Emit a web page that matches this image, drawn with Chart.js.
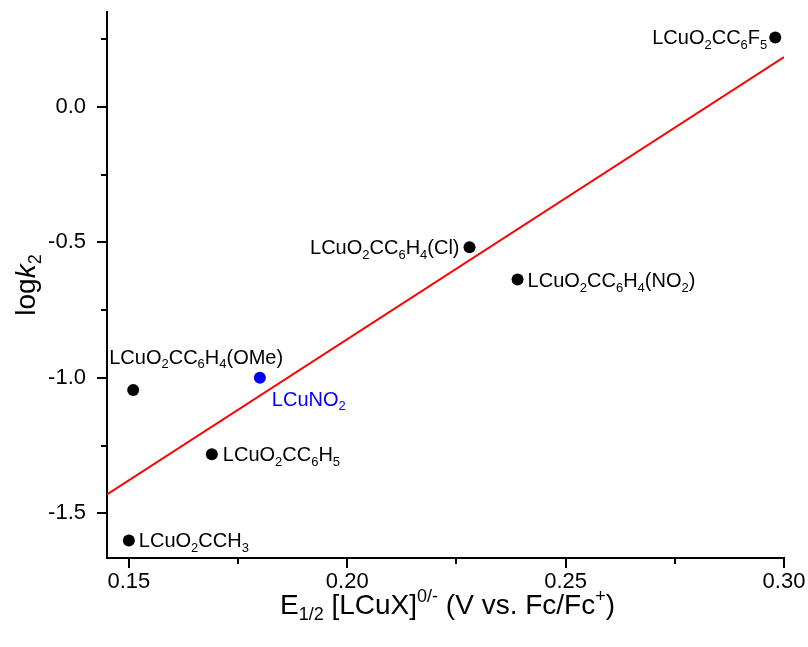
<!DOCTYPE html>
<html>
<head>
<meta charset="utf-8">
<script src="https://cdn.jsdelivr.net/npm/chart.js@4"></script>
<style>
  html, body { margin: 0; padding: 0; background: #fff; }
</style>
</head>
<body>
<canvas id="graphique" width="808" height="647"></canvas>
<script>
// données
const composes = ['LCuO2CCH3', 'LCuO2CC6H4(OMe)', 'LCuNO2', 'LCuO2CC6H5', 'LCuO2CC6H4(Cl)', 'LCuO2CC6H4(NO2)', 'LCuO2CC6F5'];
const potentiels = [0.150, 0.151, 0.180, 0.169, 0.228, 0.239, 0.298];
const logK2 = [-1.60, -1.045, -1.00, -1.282, -0.518, -0.637, 0.256];

// droite de régression (extrémités)
const droiteX = [0.145, 0.30];
const droiteY = [-1.43, 0.184];

const ticksX = [0.15, 0.175, 0.20, 0.225, 0.25, 0.275, 0.30];
const etiquettesX = ['0.15', '', '0.20', '', '0.25', '', '0.30'];
const ticksY = [-1.5, -1.25, -1.0, -0.75, -0.5, -0.25, 0.0, 0.25];
const etiquettesY = ['-1.5', '', '-1.0', '', '-0.5', '', '0.0', ''];

// style et placement des étiquettes
const couleurs = ['#000', '#000', '#0000ff', '#000', '#000', '#000', '#000'];
const placement = [
  { dx: 10, dy: 0, align: 'left' },
  { dx: -24, dy: -33, align: 'left' },
  { dx: 12, dy: 21, align: 'left' },
  { dx: 11, dy: 0, align: 'left' },
  { dx: -10, dy: 0, align: 'right' },
  { dx: 10, dy: 1, align: 'left' },
  { dx: -8, dy: 0, align: 'right' }
];

const police = "'Liberation Sans', Arial, sans-serif";

// les chiffres des formules sont en indice
function decouper(texte) {
  return texte.match(/\d+|\D+/g).map(s => ({ t: s, sub: /^\d+$/.test(s) }));
}

function texteRiche(ctx, segs, x, y, taille, align, couleur) {
  const petite = Math.round(taille * 0.65);
  const fontDe = s => (s.italic ? 'italic ' : '') + (s.sub || s.sup ? petite : taille) + 'px ' + police;
  let largeur = 0;
  segs.forEach(s => { ctx.font = fontDe(s); largeur += ctx.measureText(s.t).width; });
  let cx = x;
  if (align === 'right') cx = x - largeur;
  if (align === 'center') cx = x - largeur / 2;
  ctx.fillStyle = couleur;
  ctx.textBaseline = 'alphabetic';
  ctx.textAlign = 'left';
  segs.forEach(s => {
    ctx.font = fontDe(s);
    let dy = 0;
    if (s.sub) dy = taille * 0.22;
    if (s.sup) dy = -taille * 0.42;
    ctx.fillText(s.t, cx, y + dy);
    cx += ctx.measureText(s.t).width;
  });
}

const pluginDessin = {
  id: 'dessin',
  afterDraw(chart) {
    const { ctx, chartArea } = chart;
    const x = chart.scales.x, y = chart.scales.y;
    ctx.save();

    // graduations (majeures plus longues)
    ctx.strokeStyle = '#000';
    ctx.lineWidth = 2;
    ticksX.forEach((v, i) => {
      const px = Math.round(x.getPixelForValue(v));
      const len = etiquettesX[i] ? 10 : 6;
      ctx.beginPath();
      ctx.moveTo(px, chartArea.bottom);
      ctx.lineTo(px, chartArea.bottom + len);
      ctx.stroke();
    });
    ticksY.forEach((v, i) => {
      const py = Math.round(y.getPixelForValue(v));
      const len = etiquettesY[i] ? 10 : 6;
      ctx.beginPath();
      ctx.moveTo(chartArea.left, py);
      ctx.lineTo(chartArea.left - len, py);
      ctx.stroke();
    });

    // étiquettes des points
    composes.forEach((nom, i) => {
      const px = x.getPixelForValue(potentiels[i]);
      const py = y.getPixelForValue(logK2[i]);
      const p = placement[i];
      texteRiche(ctx, decouper(nom), px + p.dx, py + p.dy + 7, 20, p.align, couleurs[i]);
    });

    // titres des axes
    const titreX = [
      { t: 'E' }, { t: '1/2', sub: true }, { t: ' [LCuX]' }, { t: '0/-', sup: true },
      { t: ' (V vs. Fc/Fc' }, { t: '+', sup: true }, { t: ')' }
    ];
    texteRiche(ctx, titreX, (chartArea.left + chartArea.right) / 2 + 2, 614, 28, 'center', '#000');

    const titreY = [{ t: 'log' }, { t: 'k', italic: true }, { t: '2', sub: true }];
    ctx.translate(35, (chartArea.top + chartArea.bottom) / 2);
    ctx.rotate(-Math.PI / 2);
    texteRiche(ctx, titreY, 0, 0, 28, 'center', '#000');

    ctx.restore();
  }
};

const ctx = document.getElementById('graphique').getContext('2d');

new Chart(ctx, {
  type: 'scatter',
  data: {
    datasets: [
      {
        type: 'line',
        data: droiteX.map((v, i) => ({ x: v, y: droiteY[i] })),
        borderColor: '#ff0000',
        borderWidth: 2,
        pointRadius: 0,
        fill: false,
        order: 2
      },
      {
        data: potentiels.map((v, i) => ({ x: v, y: logK2[i] })),
        pointBackgroundColor: couleurs,
        pointBorderWidth: 0,
        pointRadius: 6,
        order: 1
      }
    ]
  },
  options: {
    responsive: false,
    animation: false,
    layout: { padding: { top: 12, right: 24, left: 0, bottom: 0 } },
    plugins: { legend: { display: false }, tooltip: { enabled: false } },
    scales: {
      x: {
        type: 'linear',
        min: 0.145,
        max: 0.30,
        afterBuildTicks: s => { s.ticks = ticksX.map(v => ({ value: v })); },
        afterFit: s => { s.height = 89; s.paddingLeft = 0; s.paddingRight = 0; },
        grid: { display: false, drawTicks: false },
        border: { display: true, color: '#000', width: 2 },
        ticks: {
          callback: (v, i) => etiquettesX[i],
          color: '#000',
          font: { family: police, size: 22 },
          padding: 11,
          maxRotation: 0,
          autoSkip: false
        }
      },
      y: {
        type: 'linear',
        min: -1.665,
        max: 0.35,
        afterBuildTicks: s => { s.ticks = ticksY.map(v => ({ value: v })); },
        afterFit: s => { s.width = 107; s.paddingTop = 0; s.paddingBottom = 0; },
        grid: { display: false, drawTicks: false },
        border: { display: true, color: '#000', width: 2 },
        ticks: {
          callback: (v, i) => etiquettesY[i],
          color: '#000',
          font: { family: police, size: 22 },
          padding: 21,
          autoSkip: false
        }
      }
    }
  },
  plugins: [pluginDessin]
});
</script>
</body>
</html>
